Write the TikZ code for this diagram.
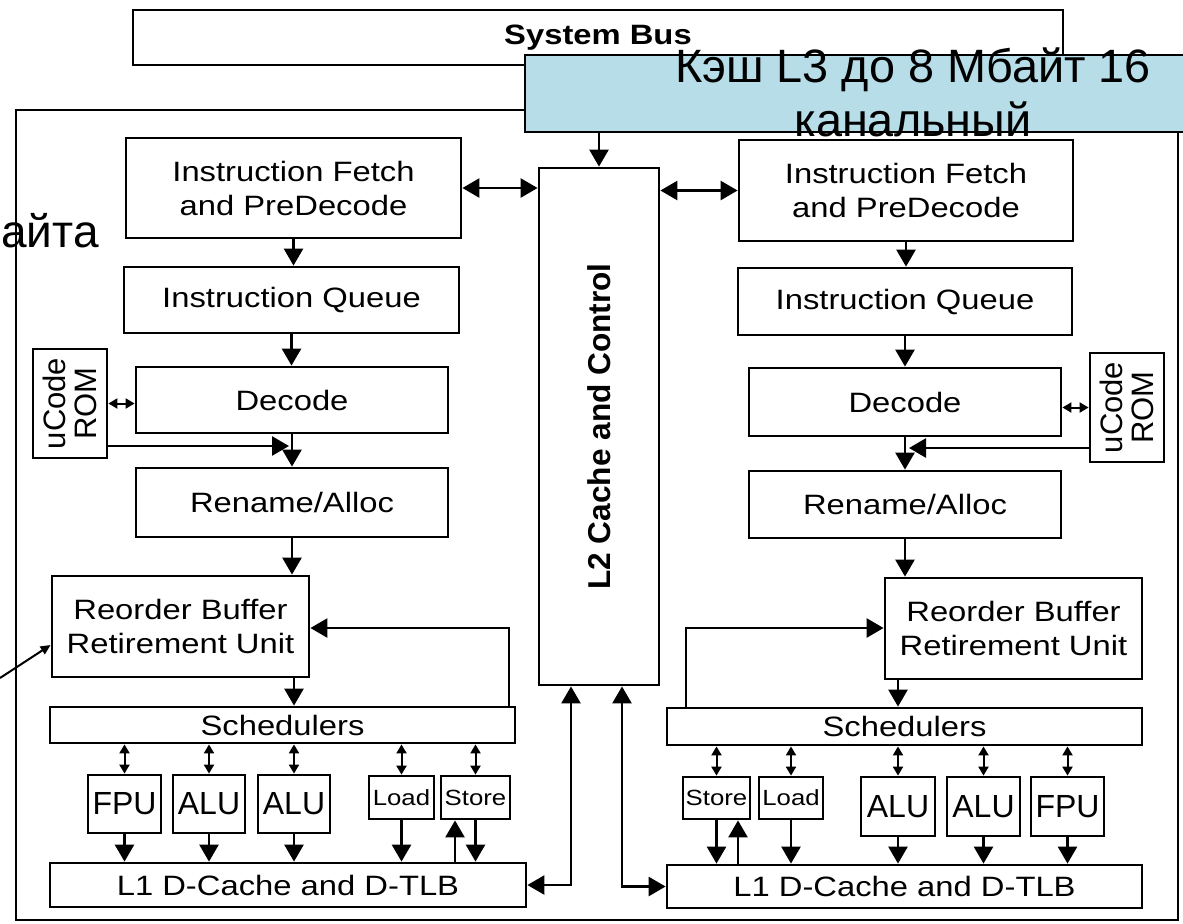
\documentclass[tikz,border=0pt]{standalone}
\usepackage{fontspec}
\setmainfont{Liberation Sans}
\newfontfamily\wide{Liberation Sans}[FakeStretch=1.17]
\usetikzlibrary{arrows.meta,calc}
\definecolor{lthree}{HTML}{B7DDE8}
\newcommand\mkbox[7][]{\node[box,#1,minimum width={(#5-#3)*0.5pt},minimum height={(#6-#4)*0.5pt}] (#2) at ({(#3+#5)/2},{(#4+#6)/2}) {#7};}
\begin{document}
\begin{tikzpicture}[x=0.5pt,y=-0.5pt,
  box/.style={draw,line width=1.4pt,inner sep=1pt,align=center,font=\wide\fontsize{14}{17}\selectfont},
  big/.style={font=\fontsize{16}{18}\selectfont},
  small/.style={font=\wide\fontsize{11}{13}\selectfont},
  l2txt/.style={rotate=90,font=\bfseries\fontsize{15.8}{18}\selectfont},
  romtxt/.style={rotate=90,align=center,inner sep=0pt,font=\fontsize{15.5}{15.5}\selectfont},
  arr/.style={-{Triangle[length=8.5pt,width=9.5pt]},line width=1.3pt},
  darr/.style={{Triangle[length=8.5pt,width=9.5pt]}-{Triangle[length=8.5pt,width=9.5pt]},line width=1.3pt},
  sdarr/.style={{Triangle[length=4.5pt,width=5pt]}-{Triangle[length=4.5pt,width=5pt]},line width=1pt},
  parr/.style={-{Triangle[length=5pt,width=4.5pt]},line width=1pt}]
\useasboundingbox (0,0) rectangle (1183,923);
\fill[white] (0,0) rectangle (1183,923);
% frames
\mkbox{chip}{16}{110}{1178}{920}{}
\mkbox[font=\wide\bfseries\fontsize{14}{17}\selectfont]{sysbus}{133}{10}{1063}{65}{System Bus}
\node[fill=lthree,inner sep=0pt,minimum width={(1183-525)*0.5pt},minimum height={(132-55)*0.5pt}] (l3) at ({(525+1183)/2},{(55+132)/2}) {};
\draw[line width=1pt] (l3.north east) -- (l3.north west) -- (l3.south west) -- (l3.south east);
\node[align=center,inner sep=0pt,font=\fontsize{23.4}{27}\selectfont] (l3t) at (913,92) {Кэш L3 до 8 Мбайт 16\\канальный};
\node[anchor=base west,inner sep=0pt,font=\fontsize{23}{27}\selectfont] (ayta) at (1,247) {айта};
% left core
\mkbox{IFL}{126}{138}{461}{238}{Instruction Fetch\\and PreDecode}
\mkbox{IQL}{124}{267}{459}{333}{Instruction Queue}
\mkbox{DECL}{136}{367}{448}{433}{Decode}
\mkbox{ROML}{33}{349}{107}{458}{}
\node[romtxt] (ROMLt) at (ROML.center) {uCode\\ROM};
\mkbox{RENL}{136}{468}{448}{537}{Rename/Alloc}
\mkbox{ROBL}{52}{576}{309}{677}{Reorder Buffer\\Retirement Unit}
\mkbox{SCHL}{50}{707}{515}{743}{Schedulers}
\mkbox[big]{FPUL}{88}{775}{161}{833}{FPU}
\mkbox[big]{ALU1L}{173}{775}{245}{833}{ALU}
\mkbox[big]{ALU2L}{258}{775}{330}{833}{ALU}
\mkbox[small]{LOADL}{369}{776}{434}{819}{Load}
\mkbox[small]{STOREL}{441}{776}{510}{819}{Store}
\mkbox{L1L}{50}{863}{526}{907}{L1 D-Cache and D-TLB}
% L2
\mkbox{L2}{539}{168}{659}{685}{}
\node[l2txt] (L2t) at (L2.center) {L2 Cache and Control};
% right core
\mkbox{IFR}{739}{140}{1073}{241}{Instruction Fetch\\and PreDecode}
\mkbox{IQR}{738}{268}{1072}{335}{Instruction Queue}
\mkbox{DECR}{749}{368}{1061}{436}{Decode}
\mkbox{ROMR}{1090}{353}{1164}{462}{}
\node[romtxt] (ROMRt) at (ROMR.center) {uCode\\ROM};
\mkbox{RENR}{749}{471}{1061}{538}{Rename/Alloc}
\mkbox{ROBR}{885}{578}{1142}{679}{Reorder Buffer\\Retirement Unit}
\mkbox{SCHR}{667}{708}{1142}{745}{Schedulers}
\mkbox[small]{STORER}{683}{777}{750}{819}{Store}
\mkbox[small]{LOADR}{759}{777}{823}{819}{Load}
\mkbox[big]{ALU1R}{861}{777}{935}{836}{ALU}
\mkbox[big]{ALU2R}{947}{777}{1020}{836}{ALU}
\mkbox[big]{FPUR}{1031}{777}{1104}{836}{FPU}
\mkbox{L1R}{667}{865}{1142}{908}{L1 D-Cache and D-TLB}
% connectors: top
\draw[arr] (L2.north |- l3.south) -- (L2.north);
\draw[darr] (IFL.east) -- (IFL.east -| L2.west);
\draw[darr] (L2.east |- IFR.west) -- (IFR.west);
% left pipeline
\draw[arr] (IFL.south) -- (IFL.south |- IQL.north);
\draw[arr] (IQL.south) -- (IQL.south |- DECL.north);
\draw[arr] (DECL.south) -- (DECL.south |- RENL.north);
\draw[arr] (RENL.south) -- (RENL.south |- ROBL.north);
\draw[arr] (ALU2L.north |- ROBL.south) -- (ALU2L.north |- SCHL.north);
\draw[sdarr] (ROML.east) -- (ROML.east -| DECL.west);
\coordinate (romLo) at (289,446);
\draw[arr] (ROML.east |- romLo) -- (romLo);
\coordinate (fbL) at (509,628);
\draw[arr] (fbL |- SCHL.north) -- (fbL) -- (fbL -| ROBL.east);
\foreach \u in {FPUL,ALU1L,ALU2L,LOADL,STOREL}{
  \draw[sdarr] (\u.north |- SCHL.south) -- (\u.north);
  \draw[arr] (\u.south) -- (\u.south |- L1L.north);
}
\path (STOREL.south) ++(-20.5,0) coordinate (stLu);
\draw[arr] (stLu |- L1L.north) -- (stLu);
\coordinate (l2dl) at (571,885);
\draw[darr] (l2dl |- L2.south) -- (l2dl) -- (L1L.east);
\coordinate (l2dr) at (622,886.5);
\draw[darr] (l2dr |- L2.south) -- (l2dr) -- (L1R.west);
% right pipeline
\draw[arr] (IFR.south) -- (IFR.south |- IQR.north);
\draw[arr] (IQR.south) -- (IQR.south |- DECR.north);
\draw[arr] (DECR.south) -- (DECR.south |- RENR.north);
\draw[arr] (RENR.south) -- (RENR.south |- ROBR.north);
\draw[arr] (ALU1R.north |- ROBR.south) -- (ALU1R.north |- SCHR.north);
\draw[sdarr] (ROMR.west -| DECR.east) -- (ROMR.west);
\coordinate (romRo) at (909,448);
\draw[arr] (ROMR.west |- romRo) -- (romRo);
\coordinate (fbR) at (686,628);
\draw[arr] (fbR |- SCHR.north) -- (fbR) -- (fbR -| ROBR.west);
\foreach \u in {STORER,LOADR,ALU1R,ALU2R,FPUR}{
  \draw[sdarr] (\u.north |- SCHR.south) -- (\u.north);
  \draw[arr] (\u.south) -- (\u.south |- L1R.north);
}
\path (STORER.south) ++(21.5,0) coordinate (stRu);
\draw[arr] (stRu |- L1R.north) -- (stRu);
% pointer
\coordinate (ptr) at (0,678);
\draw[parr] (ptr) -- ($(ROBL.west)+(0,18.5)$);
\end{tikzpicture}
\end{document}
